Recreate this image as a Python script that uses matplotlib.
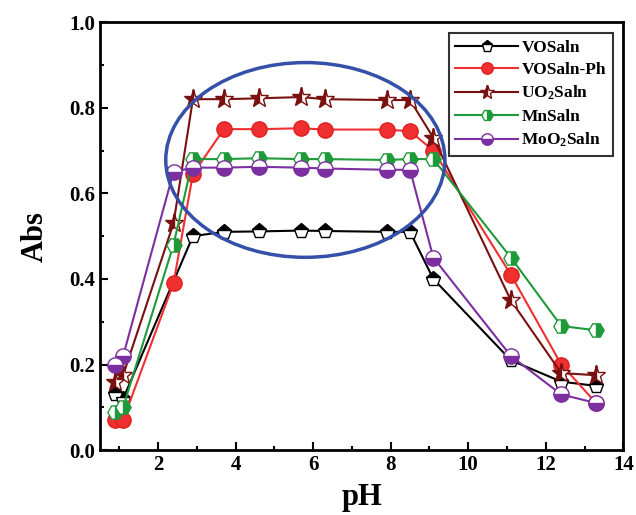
import numpy as np
import matplotlib
matplotlib.use("Agg")
import matplotlib.pyplot as plt
from matplotlib.patches import Ellipse

plt.rcParams["font.family"] = ["Liberation Serif", "DejaVu Serif"]
plt.rcParams["font.weight"] = "bold"
plt.rcParams["mathtext.fontset"] = "custom"
plt.rcParams["mathtext.rm"] = "Liberation Serif:bold"
plt.rcParams["mathtext.it"] = "Liberation Serif:bold"
plt.rcParams["mathtext.bf"] = "Liberation Serif:bold"

# pH values
ph_full = [0.9, 1.1, 2.4, 2.9, 3.7, 4.6, 5.7, 6.3, 7.9, 8.5, 9.1, 11.1, 12.4, 13.3]
ph_vo = [0.9, 1.1, 2.9, 3.7, 4.6, 5.7, 6.3, 7.9, 8.5, 9.1, 11.1, 12.4, 13.3]

vosaln = [0.13, 0.12, 0.50, 0.51, 0.511, 0.513, 0.512, 0.51, 0.51, 0.40, 0.21, 0.16, 0.15]
vosaln_ph = [0.07, 0.07, 0.39, 0.645, 0.75, 0.75, 0.752, 0.749, 0.749, 0.745, 0.70, 0.41, 0.20, 0.11]
uo2saln = [0.16, 0.175, 0.53, 0.82, 0.82, 0.822, 0.825, 0.82, 0.818, 0.818, 0.73, 0.35, 0.18, 0.175]
mnsaln = [0.09, 0.10, 0.48, 0.68, 0.68, 0.682, 0.68, 0.68, 0.678, 0.68, 0.68, 0.45, 0.29, 0.28]
moo2saln = [0.20, 0.22, 0.65, 0.66, 0.66, 0.662, 0.66, 0.658, 0.655, 0.655, 0.45, 0.22, 0.13, 0.11]

fig = plt.figure(figsize=(6.36, 5.15), dpi=100)
ax = fig.add_axes([0.157, 0.126, 0.823, 0.831])

ms = 11
ax.plot(ph_vo, vosaln, color="black", lw=1.5, marker="p", ms=ms, fillstyle="top",
        markerfacecolor="black", markerfacecoloralt="white", markeredgecolor="black",
        label="VOSaln")
ax.plot(ph_full, vosaln_ph, color="#f03030", lw=1.5, marker="o", ms=ms,
        markerfacecolor="#f03030", markeredgecolor="#e02020", label="VOSaln-Ph")
ax.plot(ph_full, uo2saln, color="#7a1010", lw=1.5, marker="*", ms=ms + 3, fillstyle="left",
        markerfacecolor="#7a1010", markerfacecoloralt="white", markeredgecolor="#7a1010",
        label="UO$_2$Saln")
ax.plot(ph_full, mnsaln, color="#1f9a3a", lw=1.5, marker="H", ms=ms, fillstyle="right",
        markerfacecolor="#1f9a3a", markerfacecoloralt="white", markeredgecolor="#1f9a3a",
        label="MnSaln")
ax.plot(ph_full, moo2saln, color="#7b2fa0", lw=1.5, marker="o", ms=ms, fillstyle="bottom",
        markerfacecolor="#7b2fa0", markerfacecoloralt="white", markeredgecolor="#7b2fa0",
        label="MoO$_2$Saln")

ax.add_patch(Ellipse((5.8, 0.678), 7.2, 0.455, fill=False, edgecolor="#3550a8", lw=2.5, zorder=5))

ax.set_xlim(0.5, 14)
ax.set_ylim(0, 1.0)
ax.set_xticks([2, 4, 6, 8, 10, 12, 14])
ax.set_xticks([1, 3, 5, 7, 9, 11, 13], minor=True)
ax.set_yticks([0.0, 0.2, 0.4, 0.6, 0.8, 1.0])
ax.set_yticks([0.1, 0.3, 0.5, 0.7, 0.9], minor=True)
ax.tick_params(which="both", direction="in", width=1.5, labelsize=15)
ax.tick_params(which="major", length=6)
ax.tick_params(which="minor", length=3)
for s in ax.spines.values():
    s.set_linewidth(2)

ax.set_xlabel("pH", fontsize=22, fontweight="bold", labelpad=6)
ax.set_ylabel("Abs", fontsize=22, fontweight="bold", labelpad=14)

leg = ax.legend(loc="upper right", fontsize=12.5, frameon=True, fancybox=False,
                edgecolor="black", handlelength=3.6, borderpad=0.4, labelspacing=0.35,
                handletextpad=0.2, markerscale=0.75, borderaxespad=0.6)
leg.get_frame().set_linewidth(1.5)

fig.savefig("out.png", dpi=100)
